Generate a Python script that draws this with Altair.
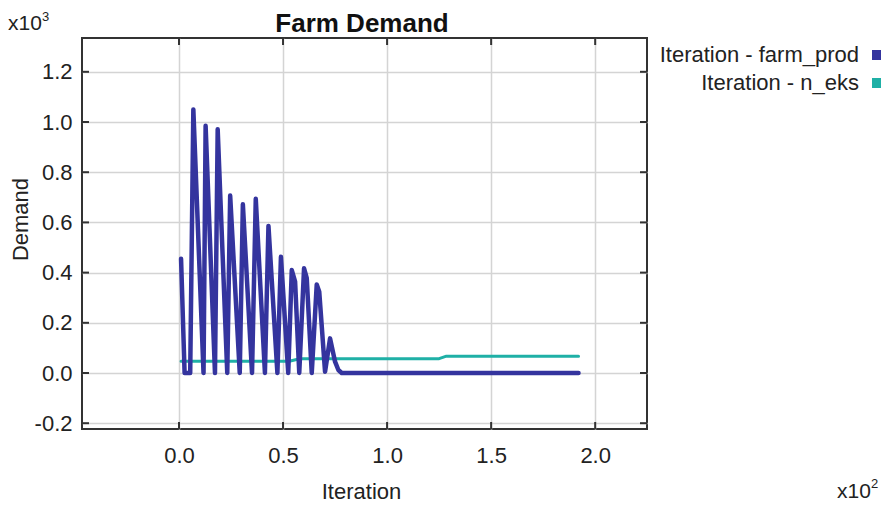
import altair as alt
import pandas as pd

# ---- data ----
series_names = ["Iteration - farm_prod", "Iteration - n_eks"]
series_colors = ["#34349e", "#1fb0a6"]

farm_iter = [1, 2.7, 5.4, 6.9, 11.8, 12.8, 17.3, 18.6, 23.2, 24.6, 29.2, 30.7,
             35.1, 36.9, 41.3, 43.0, 47.3, 49.0, 52.5, 54.2, 55.8, 57.8, 60.1,
             61.4, 63.8, 66.2, 67.4, 70.2, 72.6, 75.0, 76.6, 78.2, 192]
farm_vals = [455, 0, 0, 1050, 0, 985, 0, 971, 0, 707, 0, 672,
             0, 694, 0, 586, 0, 463, 0, 410, 364, 0, 417,
             378, 0, 353, 324, 5, 138, 45, 12, 0, 0]

neks_iter = [1, 53, 58, 125, 128.5, 192]
neks_vals = [47, 47, 57, 57, 67, 67]

x_ticks = [0, 50, 100, 150, 200]
y_ticks = [-200, 0, 200, 400, 600, 800, 1000, 1200]

chart_title = "Farm Demand"

FONT = "Liberation Sans"
INK = "#222222"
FS = 22
W, H = 565, 391

farm_df = pd.DataFrame({"series": series_names[0], "iteration": farm_iter, "demand": farm_vals})
neks_df = pd.DataFrame({"series": series_names[1], "iteration": neks_iter, "demand": neks_vals})

x_scale = alt.Scale(domain=[-46.6, 224.9], nice=False, zero=False)
y_scale = alt.Scale(domain=[-223.1, 1334.7], nice=False, zero=False)
color_scale = alt.Scale(domain=series_names, range=series_colors)

x_axis = alt.Axis(
    title="Iteration", values=x_ticks,
    labelExpr="format(datum.value/100, '.1f')",
    ticks=False, domain=False, grid=True, labelPadding=16,
    labelFontSize=FS, titleFontSize=FS, titleFontWeight="normal",
    titleX=279, titleY=69, titleAlign="center", titleBaseline="alphabetic",
)
y_axis = alt.Axis(
    title="Demand", values=y_ticks,
    labelExpr="(datum.value < 0 ? '-' : '') + format(abs(datum.value)/1000, '.1f')",
    ticks=False, domain=False, grid=True, labelPadding=10,
    labelFontSize=FS, titleFontSize=FS, titleFontWeight="normal",
    titleAngle=270, titleX=-62, titleY=181, titleAlign="center", titleBaseline="middle",
)

legend = alt.Legend(
    title=None, orient="none", legendX=784, legendY=6,
    symbolType="square", symbolSize=25, symbolStrokeWidth=5,
    labelAlign="right", labelOffset={"expr": "-29"}, labelFontSize=FS, labelFont=FONT,
    labelColor=INK, labelLimit=400, rowPadding=2, padding=0,
)

neks = alt.Chart(neks_df).mark_line(strokeWidth=3, strokeJoin="round", strokeCap="round").encode(
    x=alt.X("iteration:Q", scale=x_scale, axis=x_axis),
    y=alt.Y("demand:Q", scale=y_scale, axis=y_axis),
    color=alt.Color("series:N", scale=color_scale, legend=legend),
)
farm = alt.Chart(farm_df).mark_line(strokeWidth=4.5, strokeJoin="round", strokeCap="round").encode(
    x=alt.X("iteration:Q", scale=x_scale),
    y=alt.Y("demand:Q", scale=y_scale),
    color=alt.Color("series:N", scale=color_scale, legend=legend),
)

ytick_df = pd.DataFrame({"demand": y_ticks})
xtick_df = pd.DataFrame({"iteration": x_ticks})
tick_style = dict(color="#333333", strokeWidth=2)
tick_left = alt.Chart(ytick_df).mark_rule(**tick_style).encode(
    y=alt.Y("demand:Q", scale=y_scale), x=alt.value(0), x2=alt.value(7))
tick_right = alt.Chart(ytick_df).mark_rule(**tick_style).encode(
    y=alt.Y("demand:Q", scale=y_scale), x=alt.value(W - 7), x2=alt.value(W))
tick_bottom = alt.Chart(xtick_df).mark_rule(**tick_style).encode(
    x=alt.X("iteration:Q", scale=x_scale), y=alt.value(H - 7), y2=alt.value(H))
tick_top = alt.Chart(xtick_df).mark_rule(**tick_style).encode(
    x=alt.X("iteration:Q", scale=x_scale), y=alt.value(0), y2=alt.value(7))

def label(txt, x, y, size, weight="normal", align="left", color=INK):
    return alt.Chart(pd.DataFrame({"t": [txt]})).mark_text(
        align=align, baseline="alphabetic", fontSize=size, font=FONT, color=color,
        fontWeight=weight,
    ).encode(text="t:N", x=alt.value(x), y=alt.value(y))

title_mark = label(chart_title, 280, -6, 26, weight="bold", align="center", color="#111111")
exp_y = label("x10", -74, -8, 21) + label("3", -40, -17, 13)
exp_x = label("x10", 755, 460, 21) + label("2", 789, 450, 13)

chart = alt.layer(
    neks, farm, tick_left, tick_right, tick_bottom, tick_top, title_mark, exp_y, exp_x
).properties(
    width=W, height=H,
    autosize=alt.AutoSizeParams(type="none"),
    padding={"left": 74, "top": 30, "right": 234, "bottom": 74},
).configure_view(
    stroke="#333333", strokeWidth=2
).configure_axis(
    gridColor="#d4d4d4", gridWidth=1.5, labelFont=FONT, titleFont=FONT,
    labelColor=INK, titleColor=INK,
)

chart.save("out.html", embed_options={"renderer": "svg", "actions": False})
